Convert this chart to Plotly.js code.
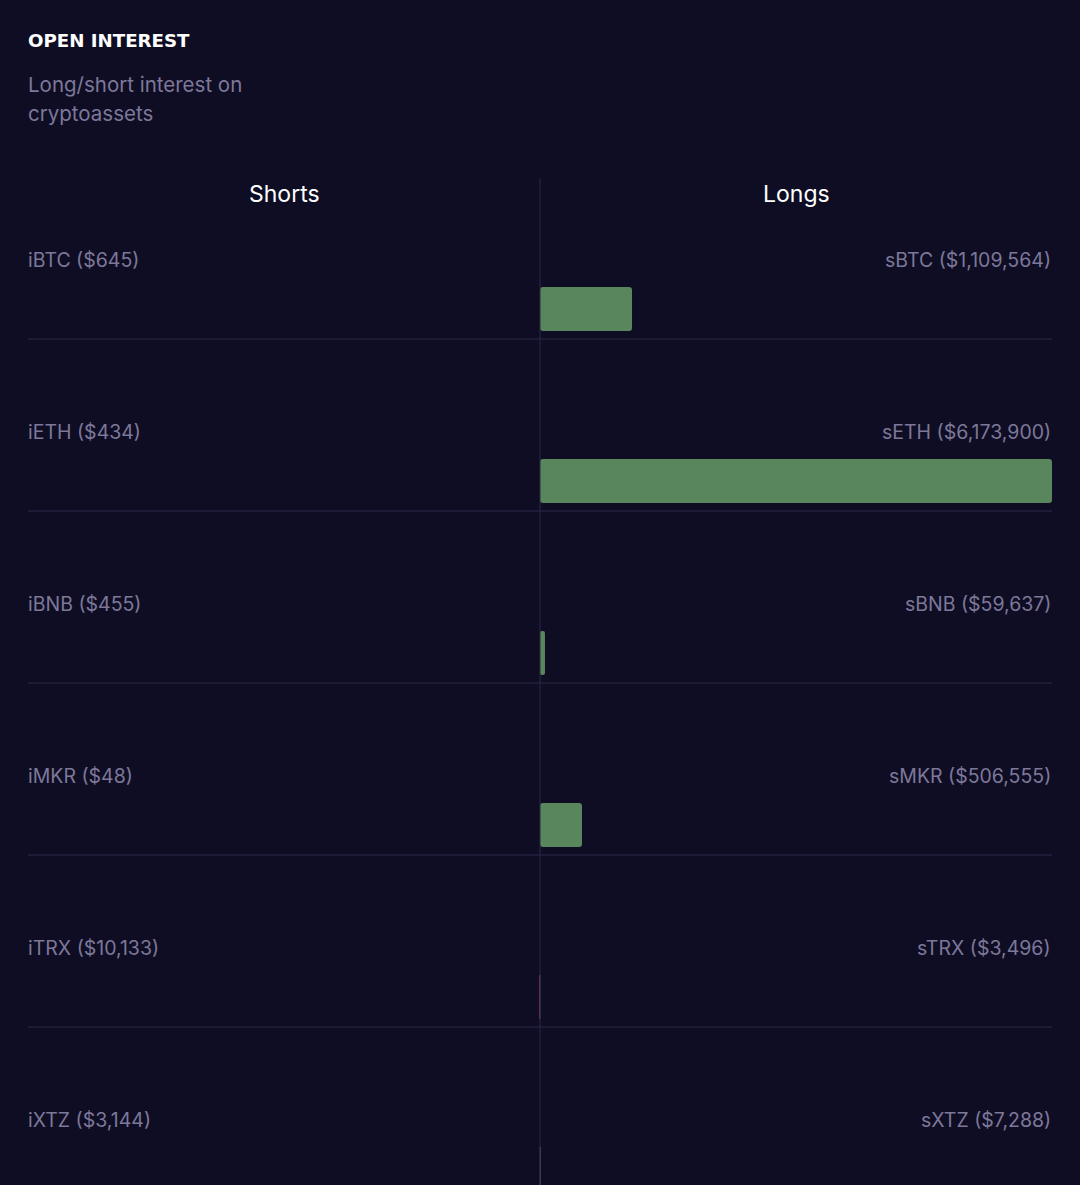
<!DOCTYPE html>
<html>
<head>
<meta charset="utf-8">
<script src="https://cdn.plot.ly/plotly-3.0.1.min.js"></script>
<style>
  html, body { margin:0; padding:0; background:#0f0d24; overflow:hidden; }
  #chart { width:1080px; height:1199px; }
</style>
</head>
<body>
<div id="chart"></div>
<script>
// Data
const shortNames = ["iBTC", "iETH", "iBNB", "iMKR", "iTRX", "iXTZ"];
const shortValues = [645, 434, 455, 48, 10133, 3144];
const longNames = ["sBTC", "sETH", "sBNB", "sMKR", "sTRX", "sXTZ"];
const longValues = [1109564, 6173900, 59637, 506555, 3496, 7288];
const headers = ["Shorts", "Longs"];
const titleText = "OPEN INTEREST";
const subtitleLines = ["Long/short interest on", "cryptoassets"];

const BG = "#0f0d24";
const GRID = "#2b2848";
const LABEL = "#7d7899";
const GREEN = "#5a865d";
const PINK = "#b03a66";
const FONT = "Inter, 'Open Sans', sans-serif";

const n = shortNames.length;
const rowPx = 172;
const plotH = rowPx * n;
const barOffset = (309 - 167) / rowPx;   // bar centre within row
const labelOffset = (260 - 167) / rowPx; // label centre within row
const barW = 44 / rowPx;

const maxV = Math.max(...shortValues, ...longValues);
const fmt = v => "$" + v.toLocaleString("en-US");

const yBars = shortNames.map((_, i) => i + barOffset);

const traces = [
  {
    type: "bar", orientation: "h",
    x: shortValues.map(v => -v), y: yBars, base: 0,
    width: barW,
    marker: { color: PINK, cornerradius: 3, line: { width: 0 } },
    hoverinfo: "skip", showlegend: false
  },
  {
    type: "bar", orientation: "h",
    x: longValues, y: yBars, base: 0,
    width: barW,
    marker: { color: GREEN, cornerradius: 3, line: { width: 0 } },
    hoverinfo: "skip", showlegend: false
  }
];

const annotations = [];
for (let i = 0; i < n; i++) {
  annotations.push({
    xref: "paper", yref: "y", x: 0, y: i + labelOffset, xshift: -2,
    xanchor: "left", yanchor: "middle", showarrow: false,
    text: shortNames[i] + " (" + fmt(shortValues[i]) + ")",
    font: { family: FONT, size: 19.5, color: LABEL }
  });
  annotations.push({
    xref: "paper", yref: "y", x: 1, y: i + labelOffset, xshift: 1,
    xanchor: "right", yanchor: "middle", showarrow: false,
    text: longNames[i] + " (" + fmt(longValues[i]) + ")",
    font: { family: FONT, size: 19.5, color: LABEL }
  });
}
// Column headers (paper y=1 sits at pixel 167)
headers.forEach((h, k) => {
  annotations.push({
    xref: "paper", yref: "paper", x: 0.25 + 0.5 * k, y: 1, yshift: 167 - 194,
    xanchor: "center", yanchor: "middle", showarrow: false,
    text: h, font: { family: FONT, size: 23, color: "#ffffff" }
  });
});

// Title & subtitle
annotations.push({
  xref: "paper", yref: "paper", x: 0, y: 1, yshift: 167 - 40, xshift: -2,
  xanchor: "left", yanchor: "middle", showarrow: false,
  text: "<b>" + titleText + "</b>",
  font: { family: "'DejaVu Sans', sans-serif", size: 18.2, color: "#ffffff" }
});
subtitleLines.forEach((t, k) => {
  annotations.push({
    xref: "paper", yref: "paper", x: 0, y: 1, yshift: 167 - (84 + 29 * k), xshift: -2,
    xanchor: "left", yanchor: "middle", align: "left", showarrow: false,
    text: t,
    font: { family: FONT, size: 20.5, color: LABEL }
  });
});

const shapes = [];
// centre line
shapes.push({
  type: "line", xref: "x", yref: "paper", x0: 0, x1: 0,
  y0: 1 - 11 / plotH, y1: -0.1,
  line: { color: GRID, width: 1 }
});
// row separators
for (let i = 1; i < n; i++) {
  shapes.push({
    type: "line", xref: "paper", yref: "y", x0: 0, x1: 1, y0: i, y1: i,
    line: { color: GRID, width: 1 }
  });
}

const layout = {
  width: 1080, height: 167 + plotH,
  margin: { l: 28, r: 28, t: 167, b: 0 },
  paper_bgcolor: BG, plot_bgcolor: BG,
  barmode: "overlay",
  xaxis: { range: [-maxV, maxV], visible: false, fixedrange: true },
  yaxis: { range: [n, 0], visible: false, fixedrange: true },
  annotations: annotations,
  shapes: shapes,
  font: { family: FONT }
};

Plotly.newPlot("chart", traces, layout, { staticPlot: true, displayModeBar: false });
</script>
</body>
</html>
